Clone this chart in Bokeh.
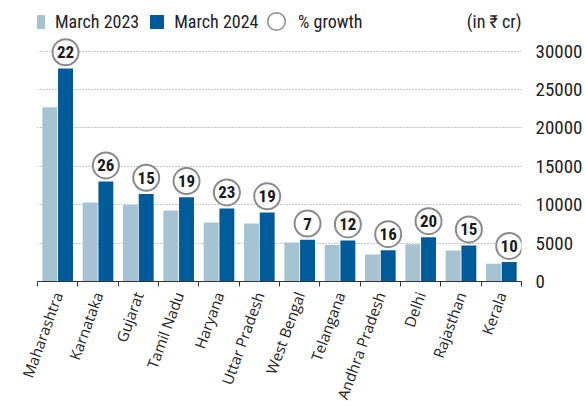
import numpy as np
from bokeh.plotting import figure
from bokeh.models import (ColumnDataSource, FixedTicker, Legend, LegendItem, Label, Range1d)
from bokeh.embed import file_html
from bokeh.resources import INLINE

states = ["Maharashtra", "Karnataka", "Gujarat", "Tamil Nadu", "Haryana", "Uttar Pradesh",
          "West Bengal", "Telangana", "Andhra Pradesh", "Delhi", "Rajasthan", "Kerala"]
march_2023 = [22700, 10300, 9950, 9250, 7700, 7560, 5080, 4750, 3520, 4850, 4050, 2320]
march_2024 = [27750, 13020, 11400, 10980, 9500, 9000, 5450, 5330, 4060, 5760, 4680, 2530]
growth = [22, 26, 15, 19, 23, 19, 7, 12, 16, 20, 15, 10]
y_ticks = [0, 5000, 10000, 15000, 20000, 25000, 30000]

LIGHT = "#a6c3d4"
DARK = "#005b9b"
NARROW = "Liberation Sans Narrow, Roboto Condensed, Roboto"

n = len(states)
centers = np.arange(n) + 0.5
bounds = list(np.arange(n + 1).astype(float))

src = ColumnDataSource(dict(
    xc=centers,
    x23=centers - 0.195,
    x24=centers + 0.195,
    v23=march_2023,
    v24=march_2024,
    cy=np.array(march_2024) + 2100,
    g=[str(v) for v in growth],
))

p = figure(width=585, height=409, output_backend="svg", toolbar_location=None,
           x_range=Range1d(0, n), y_range=Range1d(0, 36600),
           min_border_left=37, min_border_right=61, min_border_top=0, min_border_bottom=128,
           y_axis_location="right")
p.outline_line_color = None
p.background_fill_color = "white"

p.vbar(x="x23", top="v23", width=0.37, source=src, fill_color=LIGHT, line_color=None)
p.vbar(x="x24", top="v24", width=0.37, source=src, fill_color=DARK, line_color=None)
p.scatter(x="x24", y="cy", source=src, marker="circle", size=26, fill_color="white",
          line_color="#8a8a8a", line_width=2)
p.text(x="x24", y="cy", text="g", source=src, text_align="center", text_baseline="middle",
       text_font={"value": NARROW}, text_font_size="17px", text_font_style="bold",
       text_color="#1a1a1a")

# grid
p.xgrid.grid_line_color = None
p.ygrid.ticker = FixedTicker(ticks=y_ticks[1:])
p.ygrid.grid_line_color = "#8f8f8f"
p.ygrid.grid_line_dash = "1 2"
p.ygrid.grid_line_width = 1

# y axis (right)
ya = p.yaxis[0]
ya.ticker = FixedTicker(ticks=y_ticks)
ya.axis_line_color = None
ya.major_tick_line_color = None
ya.minor_tick_line_color = None
ya.major_label_standoff = 8
ya.major_label_text_font = NARROW
ya.major_label_text_font_size = "19px"
ya.major_label_text_color = "#222222"

# x axis
xa = p.xaxis[0]
xa.ticker = FixedTicker(ticks=list(centers), minor_ticks=bounds)
xa.major_label_overrides = {float(c): s for c, s in zip(centers, states)}
xa.major_tick_line_color = None
xa.major_tick_out = 0
xa.major_tick_in = 0
xa.minor_tick_out = 5
xa.minor_tick_in = 0
xa.minor_tick_line_color = "#333333"
xa.axis_line_color = "#333333"
xa.axis_line_width = 1
xa.major_label_orientation = np.deg2rad(70)
xa.major_label_standoff = 6
xa.major_label_text_font = "Open Sans"
xa.major_label_text_font_size = "15px"
xa.major_label_text_color = "#222222"

# legend-only renderers (NaN data: nothing drawn in the plot)
nan_src = dict(x=[np.nan], y=[np.nan])
r_l = p.scatter(x="x", y="y", source=ColumnDataSource(nan_src), marker="square", size=14,
                fill_color=LIGHT, line_color=None)
r_d = p.scatter(x="x", y="y", source=ColumnDataSource(nan_src), marker="square", size=14,
                fill_color=DARK, line_color=None)
r_c = p.scatter(x="x", y="y", source=ColumnDataSource(nan_src), marker="circle", size=18,
                fill_color="white", line_color="#8a8a8a", line_width=1.5)

def style(leg):
    leg.orientation = "horizontal"
    leg.padding = 0
    leg.margin = 0
    leg.spacing = 0
    leg.label_standoff = 0
    leg.background_fill_alpha = 0
    leg.border_line_color = None
    leg.label_text_font = NARROW
    leg.label_text_font_size = "18px"
    leg.label_text_color = "#222222"

legA = Legend(items=[LegendItem(label="March 2023", renderers=[r_l]),
                     LegendItem(label="March 2024", renderers=[r_d])],
              glyph_width=35, glyph_height=35, location=(-17, 242))
style(legA)
legB = Legend(items=[LegendItem(label="% growth", renderers=[r_c])],
              glyph_width=44, glyph_height=44, location=(217, 238))
style(legB)
p.add_layout(legA, "center")
p.add_layout(legB, "center")

p.add_layout(Label(x=n, x_units="data", y=260, y_units="screen", text="(in ₹ cr)",
                   text_align="right", text_baseline="middle", text_font=NARROW,
                   text_font_size="18px", text_color="#222222"))

open("out.html", "w").write(file_html(p, INLINE))
